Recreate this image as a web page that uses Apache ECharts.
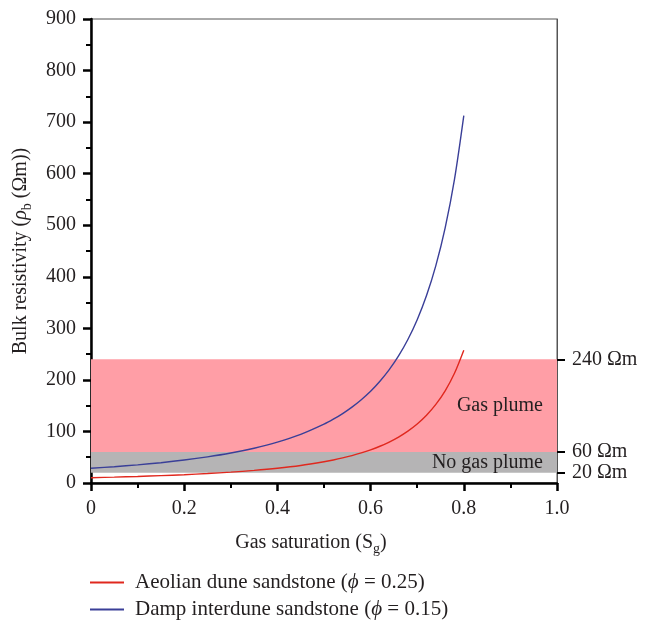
<!DOCTYPE html>
<html>
<head>
<meta charset="utf-8">
<script src="https://cdn.jsdelivr.net/npm/echarts@6/dist/echarts.min.js"></script>
<style>
  html, body { margin: 0; padding: 0; background: #fff; }
  #chart { width: 658px; height: 621px; }
</style>
</head>
<body>
<div id="chart"></div>
<script>
// gas saturation values and bulk resistivity
var satValues = [0, 0.05, 0.1, 0.15, 0.2, 0.25, 0.3, 0.35, 0.4, 0.45, 0.5, 0.52, 0.54, 0.56, 0.58, 0.6, 0.62, 0.64, 0.66, 0.68, 0.7, 0.72, 0.74, 0.76, 0.78, 0.8];
var aeolian = [10.3, 11.4, 12.7, 14.3, 16.1, 18.3, 21.0, 24.4, 28.6, 34.0, 41.2, 44.7, 48.7, 53.2, 58.4, 64.4, 71.3, 79.5, 89.1, 100.6, 114.4, 131.4, 152.4, 178.8, 212.8, 257.5];
var damp = [28.5, 31.6, 35.2, 39.4, 44.5, 50.7, 58.2, 67.5, 79.2, 94.2, 114, 123.7, 134.7, 147.2, 161.6, 178, 197.4, 219.9, 246.5, 278.3, 316.7, 363.5, 421.6, 494.8, 588.8, 712.5];
var thresholds = [20, 60, 240];
var seriesNames = ['Aeolian dune sandstone (ϕ = 0.25)', 'Damp interdune sandstone (ϕ = 0.15)'];

var FONT = 'Liberation Serif';
var FS = 20;
var txt = '#231f20';

function pairs(xs, ys) {
  var out = [];
  for (var i = 0; i < xs.length; i++) out.push([xs[i], ys[i]]);
  return out;
}

var myChart = echarts.init(document.getElementById('chart'));

var option = {
  animation: false,
  textStyle: { fontFamily: FONT, color: txt },
  grid: { left: 91, right: 101, top: 19, bottom: 138, show: true, borderColor: '#555', borderWidth: 1 },
  legend: {
    orient: 'vertical',
    left: 90,
    top: 572,
    height: 60,
    padding: 0,
    itemWidth: 34,
    itemHeight: 2,
    itemGap: 6,
    icon: 'rect',
    data: seriesNames,
    formatter: function (name) {
      var i = name.indexOf('ϕ');
      return name.slice(0, i) + '{it|ϕ}' + name.slice(i + 1);
    },
    textStyle: {
      fontFamily: FONT, fontSize: 21, color: txt, padding: [0, 0, 0, 6],
      rich: { it: { fontFamily: FONT, fontStyle: 'italic', fontSize: 21, color: txt } }
    }
  },
  xAxis: {
    type: 'value',
    min: 0, max: 1, interval: 0.2,
    name: 'Gas saturation (S{sub|g})',
    nameLocation: 'middle',
    nameGap: 47,
    nameTextStyle: {
      fontFamily: FONT, fontSize: FS, color: txt, padding: [0, 26, 0, 0],
      rich: { sub: { fontFamily: FONT, fontSize: 14, color: txt, verticalAlign: 'bottom', padding: [12, 0, 0, 0] } }
    },
    axisLine: { lineStyle: { color: '#000', width: 2.5 } },
    axisTick: { length: 8, lineStyle: { color: '#000', width: 2.5 } },
    minorTick: { show: true, splitNumber: 2, length: 5, lineStyle: { color: '#000', width: 2 } },
    axisLabel: {
      fontFamily: FONT, fontSize: FS, color: txt, margin: 16,
      formatter: function (v) { return v === 0 ? '0' : v.toFixed(1); }
    },
    splitLine: { show: false }
  },
  yAxis: [{
    type: 'value',
    min: 0, max: 900, interval: 100,
    name: 'Bulk resistivity ({it|ρ}{sub|b} (Ωm))',
    nameLocation: 'middle',
    nameGap: 57,
    nameRotate: 90,
    nameTextStyle: {
      fontFamily: FONT, fontSize: FS, color: txt,
      rich: {
        it: { fontFamily: FONT, fontStyle: 'italic', fontSize: FS, color: txt },
        sub: { fontFamily: FONT, fontSize: 14, color: txt, verticalAlign: 'bottom', padding: [12, 0, 0, 0] }
      }
    },
    axisLine: { show: true, lineStyle: { color: '#000', width: 2.5 } },
    axisTick: { show: true, length: 8, lineStyle: { color: '#000', width: 2.5 } },
    minorTick: { show: true, splitNumber: 2, length: 5, lineStyle: { color: '#000', width: 2 } },
    axisLabel: { fontFamily: FONT, fontSize: FS, color: txt, margin: 15 },
    splitLine: { show: false }
  }, {
    type: 'value',
    position: 'right',
    min: 0, max: 900,
    axisLine: { show: true, lineStyle: { color: '#555', width: 1 } },
    axisTick: { show: true, length: 8, customValues: thresholds, lineStyle: { color: '#000', width: 2 } },
    axisLabel: {
      fontFamily: FONT, fontSize: FS, color: txt, margin: 15,
      customValues: thresholds,
      formatter: function (v) { return v + ' Ωm'; }
    },
    splitLine: { show: false }
  }],
  series: [{
    name: seriesNames[0],
    type: 'line',
    smooth: 0.3,
    showSymbol: false,
    data: pairs(satValues, aeolian),
    lineStyle: { color: '#e0281e', width: 1.4 },
    itemStyle: { color: '#e0281e' },
    z: 3,
    markArea: {
      silent: true,
      data: [
        [{ yAxis: thresholds[1], itemStyle: { color: '#ff9ea6' }, name: 'Gas plume' }, { yAxis: thresholds[2] }],
        [{ yAxis: thresholds[0], itemStyle: { color: '#b5b4b5' }, name: 'No gas plume' }, { yAxis: thresholds[1] }]
      ],
      label: {
        show: true, position: 'insideRight', distance: 14,
        fontFamily: FONT, fontSize: FS, color: txt
      }
    }
  }, {
    name: seriesNames[1],
    type: 'line',
    smooth: 0.3,
    showSymbol: false,
    data: pairs(satValues, damp),
    lineStyle: { color: '#3a3f98', width: 1.4 },
    itemStyle: { color: '#3a3f98' },
    z: 4
  }]
};
myChart.setOption(option);
</script>
</body>
</html>
